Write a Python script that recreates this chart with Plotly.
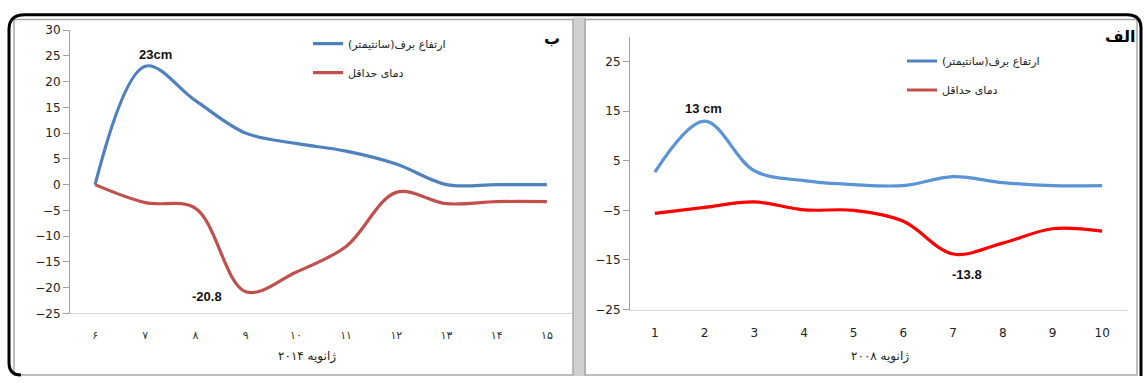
import plotly.graph_objects as go

W, H = 1144, 383

# Panel "ب": January 2014
days_2014 = [6, 7, 8, 9, 10, 11, 12, 13, 14, 15]
days_2014_fa = ["۶", "۷", "۸", "۹", "۱۰", "۱۱", "۱۲", "۱۳", "۱۴", "۱۵"]
snow_2014 = [0, 23, 16.3, 10, 8, 6.5, 4, 0, 0, 0]
tmin_2014 = [0, -3.5, -4.6, -20.8, -17, -12, -1.5, -3.7, -3.3, -3.3]

# Panel "الف": January 2008
days_2008 = [1, 2, 3, 4, 5, 6, 7, 8, 9, 10]
snow_2008 = [2.7, 13, 3, 1, 0.2, 0, 1.8, 0.6, 0, 0]
tmin_2008 = [-5.6, -4.4, -3.3, -4.9, -5, -7.2, -13.8, -11.6, -8.7, -9.2]

y_ticks_2014 = [-25, -20, -15, -10, -5, 0, 5, 10, 15, 20, 25, 30]
y_ticks_2008 = [-25, -15, -5, 5, 15, 25]

snow_name = "ارتفاع برف(سانتیمتر)\u200f"
tmin_name = "دمای حداقل"
title_2014 = "ژانویه ۲۰۱۴"
title_2008 = "ژانویه ۲۰۰۸"

BLUE = "#4F81BD"
RED = "#C0504D"
BLUE_2008 = "#5A93D6"
RED_2008 = "#FF0000"
AXIS_GRAY = "#A0A0A0"
LIGHT_GRAY = "#D4D4D4"
FONT = "DejaVu Sans"


def px(x):
    return x / W


def py(y):
    return 1 - y / H


# plot-area domains (pixels -> paper)
xdom1 = [px(70), px(572)]
ydom1 = [py(318), py(24)]
xdom2 = [px(630), px(1127)]
ydom2 = [py(314), py(31)]
yr1 = [-25, 30]
yr2 = [-25, 30]


def zero_pos(ydom, yr):
    return ydom[0] + (0 - yr[0]) / (yr[1] - yr[0]) * (ydom[1] - ydom[0])


fig = go.Figure()

fig.add_trace(go.Scatter(
    x=days_2014, y=snow_2014, name=snow_name, mode="lines",
    line=dict(color=BLUE, width=3.2, shape="spline", smoothing=1),
    xaxis="x", yaxis="y", legend="legend", legendgroup="a"))
fig.add_trace(go.Scatter(
    x=days_2014, y=tmin_2014, name=tmin_name, mode="lines",
    line=dict(color=RED, width=3.2, shape="spline", smoothing=1),
    xaxis="x", yaxis="y", legend="legend", legendgroup="b"))

fig.add_trace(go.Scatter(
    x=days_2008, y=snow_2008, name=snow_name, mode="lines",
    line=dict(color=BLUE_2008, width=3.2, shape="spline", smoothing=1),
    xaxis="x2", yaxis="y2", showlegend=False))
fig.add_trace(go.Scatter(
    x=days_2008, y=tmin_2008, name=tmin_name, mode="lines",
    line=dict(color=RED_2008, width=3.2, shape="spline", smoothing=1),
    xaxis="x2", yaxis="y2", showlegend=False))

# legend keys for the 2008 panel
fig.add_trace(go.Scatter(
    x=[None], y=[None], name=snow_name, mode="lines",
    line=dict(color=BLUE, width=3.2), xaxis="x2", yaxis="y2",
    legend="legend2", legendgroup="c"))
fig.add_trace(go.Scatter(
    x=[None], y=[None], name=tmin_name, mode="lines",
    line=dict(color=RED, width=3.2), xaxis="x2", yaxis="y2",
    legend="legend2", legendgroup="d"))

tickfont = dict(family=FONT, size=12, color="#222222")

fig.update_layout(
    width=W, height=H,
    margin=dict(l=0, r=0, t=0, b=0),
    paper_bgcolor="white", plot_bgcolor="white",
    font=dict(family=FONT, size=12, color="#222222"),
    xaxis=dict(
        domain=xdom1, anchor="y", range=[5.5, 15.5],
        tickmode="array", tickvals=days_2014, ticktext=days_2014_fa,
        showgrid=False, zeroline=False, showline=True, linecolor=LIGHT_GRAY,
        linewidth=1, ticks="", ticklabelstandoff=11,
        tickfont=dict(family=FONT, size=11, color="#333333")),
    yaxis=dict(
        domain=ydom1, anchor="x", range=yr1,
        tickmode="array", tickvals=y_ticks_2014,
        showgrid=False, zeroline=False, showline=True, linecolor=AXIS_GRAY,
        linewidth=1, ticks="outside", ticklen=6, tickcolor=AXIS_GRAY,
        tickfont=tickfont),
    xaxis3=dict(
        overlaying="x", anchor="free", position=zero_pos(ydom1, yr1),
        range=[5.5, 15.5], tickmode="array",
        tickvals=[d + 0.5 for d in [5] + days_2014],
        showticklabels=False, showgrid=False, zeroline=False,
        showline=True, linecolor=AXIS_GRAY, linewidth=1,
        ticks="outside", ticklen=5, tickcolor=AXIS_GRAY),
    xaxis2=dict(
        domain=xdom2, anchor="y2", range=[0.5, 10.5],
        tickmode="array", tickvals=days_2008,
        showgrid=False, zeroline=False, showline=True, linecolor=LIGHT_GRAY,
        linewidth=1, ticks="", ticklabelstandoff=12,
        tickfont=dict(family=FONT, size=12, color="#222222")),
    yaxis2=dict(
        domain=ydom2, anchor="x2", range=yr2,
        tickmode="array", tickvals=y_ticks_2008,
        showgrid=False, zeroline=False, showline=True, linecolor=AXIS_GRAY,
        linewidth=1, ticks="outside", ticklen=6, tickcolor=AXIS_GRAY,
        tickfont=tickfont),
    xaxis4=dict(
        overlaying="x2", anchor="free", position=zero_pos(ydom2, yr2),
        range=[0.5, 10.5], tickmode="array",
        tickvals=[d + 0.5 for d in [0] + days_2008],
        showticklabels=False, showgrid=False, zeroline=False,
        showline=True, linecolor=AXIS_GRAY, linewidth=1,
        ticks="outside", ticklen=5, tickcolor=AXIS_GRAY),
    legend=dict(
        x=px(308), y=py(23), xanchor="left", yanchor="top",
        bgcolor="rgba(0,0,0,0)", borderwidth=0,
        traceorder="grouped", tracegroupgap=10,
        font=dict(family=FONT, size=11, color="#222222")),
    legend2=dict(
        x=px(902), y=py(41), xanchor="left", yanchor="top",
        bgcolor="rgba(0,0,0,0)", borderwidth=0,
        traceorder="grouped", tracegroupgap=10,
        font=dict(family=FONT, size=11, color="#222222")),
)

label_font = dict(family="Liberation Sans", size=13, color="#111111")
annotations = [
    dict(x=days_2014[1], y=snow_2014[1], xref="x", yref="y",
         text=f"<b>{snow_2014[1]:g}cm</b>", showarrow=False, xshift=10,
         yshift=12, font=label_font),
    dict(x=days_2014[3], y=tmin_2014[3], xref="x", yref="y",
         text=f"<b>{tmin_2014[3]:g}</b>", showarrow=False, xshift=-39,
         yshift=-5, font=label_font),
    dict(x=days_2008[1], y=snow_2008[1], xref="x2", yref="y2",
         text=f"<b>{snow_2008[1]:g} cm</b>", showarrow=False, xshift=-1,
         yshift=13, font=label_font),
    dict(x=days_2008[6], y=tmin_2008[6], xref="x2", yref="y2",
         text=f"<b>{tmin_2008[6]:g}</b>", showarrow=False, xshift=14,
         yshift=-21, font=label_font),
    # axis titles
    dict(x=px(307), y=py(363), xref="paper", yref="paper", text=title_2014,
         xanchor="center", yanchor="middle", showarrow=False,
         font=dict(family=FONT, size=12, color="#222222")),
    dict(x=px(880), y=py(363), xref="paper", yref="paper", text=title_2008,
         xanchor="center", yanchor="middle", showarrow=False,
         font=dict(family=FONT, size=12, color="#222222")),
    # panel letters
    dict(x=px(552), y=py(33), xref="paper", yref="paper", text="<b>ب</b>",
         xanchor="center", yanchor="middle", showarrow=False,
         font=dict(family=FONT, size=16, color="#000000")),
    dict(x=px(1120), y=py(31), xref="paper", yref="paper", text="<b>الف</b>",
         xanchor="center", yanchor="middle", showarrow=False,
         font=dict(family=FONT, size=16, color="#000000")),
]
fig.update_layout(annotations=annotations)


def rect(x0, y0, x1, y1, **kw):
    return dict(type="rect", xref="paper", yref="paper",
                x0=px(x0), x1=px(x1), y0=py(y1), y1=py(y0), **kw)


def path(points):
    parts = []
    for cmd, *coords in points:
        vals = []
        for i in range(0, len(coords), 2):
            vals.append(f"{px(coords[i]):.5f},{py(coords[i + 1]):.5f}")
        parts.append(cmd + " " + " ".join(vals))
    return " ".join(parts)


frame_path = path([
    ("M", 21, 382), ("Q", 9, 382, 9, 369), ("L", 9, 23),
    ("Q", 9, 8, 25, 8), ("L", 1127, 8), ("Q", 1141, 8, 1141, 22),
    ("L", 1141, 383),
])

shapes = [
    rect(573, 11, 586, 383, fillcolor="#D0D0D0", line=dict(width=0), layer="below"),
    rect(14, 13, 573, 382, line=dict(color="#A8A8A8", width=1.5), layer="below"),
    rect(585, 13, 1137, 382, line=dict(color="#A8A8A8", width=1.5), layer="below"),
    dict(type="path", xref="paper", yref="paper", path=frame_path,
         line=dict(color="#000000", width=3)),
]
fig.update_layout(shapes=shapes)

fig.write_html("out.html")
